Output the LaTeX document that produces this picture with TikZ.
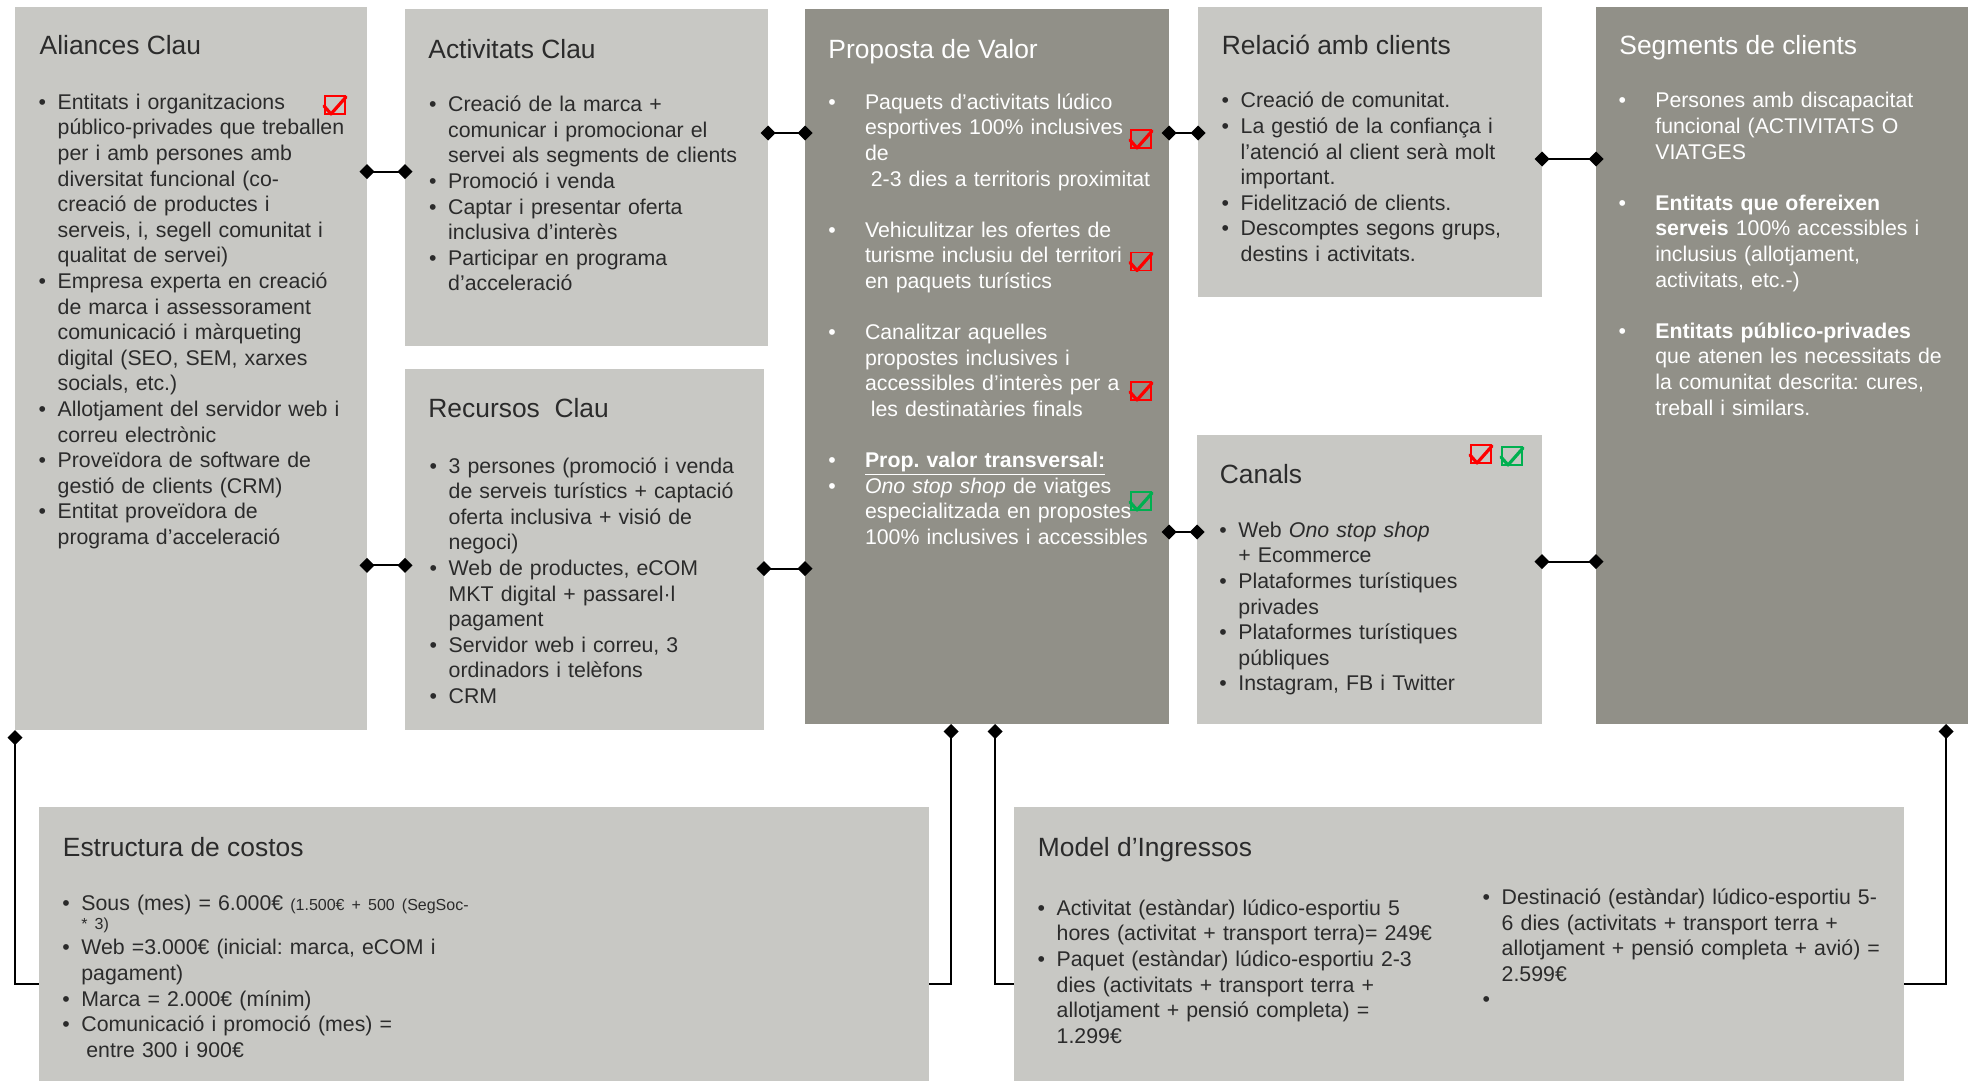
\documentclass[tikz,border=0pt]{standalone}
\usepackage{fontspec}
\setmainfont{Liberation Sans}
\usetikzlibrary{arrows.meta,positioning,fit}
\definecolor{cellgray}{RGB}{200,200,196}
\definecolor{darkcell}{RGB}{145,144,136}
\definecolor{ink}{RGB}{43,43,43}
\definecolor{tickred}{RGB}{255,0,0}
\definecolor{tickgreen}{RGB}{0,176,80}
\newlength\itmw
\newcommand\bodyfont{\fontsize{10.65}{12.8}\selectfont\frenchspacing}
\newcommand\headfont{\fontsize{13.2}{15.8}\selectfont}
\newcommand\tinyfont{\fontsize{8}{9.6}\selectfont}
\newcommand\itm[1]{\noindent\hangindent=\itmw\hangafter=1\makebox[\itmw][l]{\textbullet}#1\par}
\newcommand\gap{\vspace{\baselineskip}}
\newcommand\tick[3]{%
  \draw[#1,line width=0.6pt] (#2,#3) rectangle ++(20,18);
  \draw[#1,line width=1.6pt,line cap=round,line join=round] (#2,#3) ++(-1,10) -- ++(7,8) -- ++(15,-17);}

\begin{document}
\begin{tikzpicture}[x=0.5pt,y=-0.5pt,
    cell/.style={inner sep=0pt,outer sep=0pt,fill=cellgray},
    dark/.style={cell,fill=darkcell},
    head/.style={anchor=base west,inner sep=0pt,font=\headfont,text=ink},
    whead/.style={head,text=white},
    body/.style={anchor=base west,inner sep=0pt,text width=330pt,align=left,text=ink,
      font={\bodyfont\setlength\itmw{9.5pt}}},
    wbody/.style={body,text=white,font={\bodyfont\setlength\itmw{18.3pt}}},
    link/.style={{Diamond[length=7.5pt,width=7.5pt]}-{Diamond[length=7.5pt,width=7.5pt]},
      line width=1pt,shorten <=-3.75pt,shorten >=-3.75pt},
    stem/.style={{Diamond[length=7.5pt,width=7.5pt]}-,line width=1pt}]
  \fill[white] (0,0) rectangle (1968,1081);
  \useasboundingbox (0,0) rectangle (1968,1081);

  % the nine blocks of the canvas
  \node[cell,fit={(15,7) (367,730)}] (al) {};
  \node[cell,fit={(405,9) (768,346)}] (ac) {};
  \node[cell,fit={(405,369) (764,730)}] (rc) {};
  \node[dark,fit={(805,9) (1169,724)}] (pv) {};
  \node[cell,fit={(1198,7) (1542,297)}] (rel) {};
  \node[cell,fit={(1197,435) (1542,724)}] (can) {};
  \node[dark,fit={(1596,7) (1968,724)}] (sc) {};
  \node[cell,fit={(39,807) (929,1081)}] (ec) {};
  \node[cell,fit={(1014,807) (1904,1081)}] (mi) {};

  % links between neighbouring blocks
  \draw[link] (al.east |- 0,171.7) -- (ac.west |- 0,171.7);
  \draw[link] (al.east |- 0,565.4) -- (rc.west |- 0,565.4);
  \draw[link] (ac.east |- 0,133) -- (pv.west |- 0,133);
  \draw[link] (rc.east |- 0,568.7) -- (pv.west |- 0,568.7);
  \draw[link] (pv.east |- 0,133) -- (rel.west |- 0,133);
  \draw[link] (pv.east |- 0,532) -- (can.west |- 0,532);
  \draw[link] (rel.east |- 0,159) -- (sc.west |- 0,159);
  \draw[link] (can.east |- 0,561.6) -- (sc.west |- 0,561.6);
  % down to costs and revenues
  \draw[stem] (al.south west) |- (ec.west |- 0,984);
  \draw[stem] (pv.south -| 951,0) |- (ec.east |- 0,984);
  \draw[stem] (pv.south -| 995,0) |- (mi.west |- 0,984);
  \draw[stem] (sc.south -| 1946,0) |- (mi.east |- 0,984);

  % Aliances Clau
  \node[head] (alh) at (39.3,55) {Aliances Clau};
  \node[body] (alx) at (38.3,109.3) {%
    \itm{Entitats i organitzacions\newline público-privades que treballen\newline per i amb persones amb\newline diversitat funcional (co-\newline creació de productes i\newline serveis, i, segell comunitat i\newline qualitat de servei)}
    \itm{Empresa experta en creació\newline de marca i assessorament\newline comunicació i màrqueting\newline digital (SEO, SEM, xarxes\newline socials, etc.)}
    \itm{Allotjament del servidor web i\newline correu electrònic}
    \itm{Proveïdora de software de\newline gestió de clients (CRM)}
    \itm{Entitat proveïdora de\newline programa d’acceleració}};
  \tick{tickred}{325}{96}

  % Activitats Clau
  \node[head] (ach) at (428,58.3) {Activitats Clau};
  \node[body] (acx) at (428.8,111.7) {%
    \itm{Creació de la marca +\newline comunicar i promocionar el\newline servei als segments de clients}
    \itm{Promoció i venda}
    \itm{Captar i presentar oferta\newline inclusiva d’interès}
    \itm{Participar en programa\newline d’acceleració}};

  % Recursos Clau
  \node[head] (rch) at (428,417.4) {Recursos~~Clau};
  \node[body] (rcx) at (429.3,473.1) {%
    \itm{3 persones (promoció i venda\newline de serveis turístics + captació\newline oferta inclusiva + visió de\newline negoci)}
    \itm{Web de productes, eCOM\newline MKT digital + passarel·l\newline pagament}
    \itm{Servidor web i correu, 3\newline ordinadors i telèfons}
    \itm{CRM}};

  % Proposta de Valor
  \node[whead] (pvh) at (828,58.4) {Proposta de Valor};
  \node[wbody] (pvx) at (828,109.2) {%
    \itm{Paquets d’activitats lúdico\newline esportives 100\% inclusives\newline de\newline\hspace*{2.9pt}2-3 dies a territoris proximitat}
    \gap
    \itm{Vehiculitzar les ofertes de\newline turisme inclusiu del territori\newline en paquets turístics}
    \gap
    \itm{Canalitzar aquelles\newline propostes inclusives i\newline accessibles d’interès per a\newline\hspace*{2.9pt}les destinatàries finals}
    \gap
    \itm{\underline{\textbf{Prop. valor transversal:}}}
    \itm{\textit{Ono stop shop} de viatges\newline especialitzada en propostes\newline 100\% inclusives i accessibles}};
  \tick{tickred}{1131}{130}
  \tick{tickred}{1131}{252.5}
  \tick{tickred}{1131}{382}
  \tick{tickgreen}{1131}{492}

  % Relacio amb clients
  \node[head] (relh) at (1221.5,54.7) {Relació amb clients};
  \node[body] (relx) at (1221.3,107.9) {%
    \itm{Creació de comunitat.}
    \itm{La gestió de la confiança i\newline l’atenció al client serà molt\newline important.}
    \itm{Fidelització de clients.}
    \itm{Descomptes segons grups,\newline destins i activitats.}};

  % Canals
  \node[head] (canh) at (1219.5,483.9) {Canals};
  \node[body] (canx) at (1219,537.2) {%
    \itm{Web \textit{Ono stop shop}\newline + Ecommerce}
    \itm{Plataformes turístiques\newline privades}
    \itm{Plataformes turístiques\newline públiques}
    \itm{Instagram, FB i Twitter}};
  \tick{tickred}{1471}{445}
  \tick{tickgreen}{1502}{447}

  % Segments de clients
  \node[whead] (sch) at (1619,54.7) {Segments de clients};
  \node[wbody] (scx) at (1618.3,107.9) {%
    \itm{Persones amb discapacitat\newline funcional (ACTIVITATS O\newline VIATGES}
    \gap
    \itm{\textbf{Entitats que ofereixen}\newline \textbf{serveis} 100\% accessibles i\newline inclusius (allotjament,\newline activitats, etc.-)}
    \gap
    \itm{\textbf{Entitats público-privades}\newline que atenen les necessitats de\newline la comunitat descrita: cures,\newline treball i similars.}};

  % Estructura de costos
  \node[head] (ech) at (62.5,856.2) {Estructura de costos};
  \node[body] (ecx) at (62,910.2) {%
    \itm{Sous (mes) = 6.000€ {\tinyfont (1.500€ + 500 (SegSoc-}\vadjust{\vskip-3.3pt}\newline{\tinyfont * 3)}}
    \itm{Web =3.000€ (inicial: marca, eCOM i\newline pagament)}
    \itm{Marca = 2.000€ (mínim)}
    \itm{Comunicació i promoció (mes) =\newline\hspace*{2.5pt}entre 300 i 900€}};

  % Model d'Ingressos
  \node[head] (mih) at (1037.5,856.2) {Model d’Ingressos};
  \node[body] (mix) at (1037.3,915.2) {%
    \itm{Activitat (estàndar) lúdico-esportiu 5\newline hores (activitat + transport terra)= 249€}
    \itm{Paquet (estàndar) lúdico-esportiu 2-3\newline dies (activitats + transport terra +\newline allotjament + pensió completa) =\newline 1.299€}};
  \node[body] (miy) at (1482.3,904.5) {%
    \itm{Destinació (estàndar) lúdico-esportiu 5-\newline 6 dies (activitats + transport terra +\newline allotjament + pensió completa + avió) =\newline 2.599€}
    \itm{\mbox{}}};
\end{tikzpicture}
\end{document}
